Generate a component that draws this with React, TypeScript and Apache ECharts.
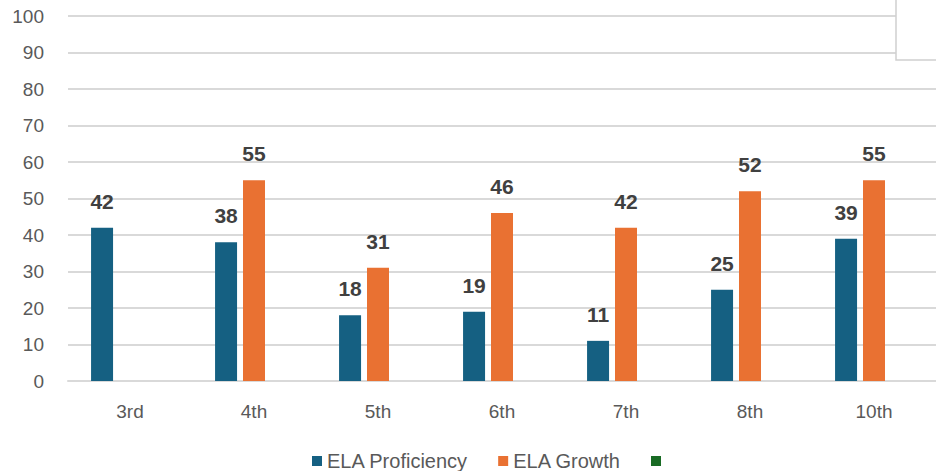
import React, { useEffect, useRef } from "react";
import * as echarts from "echarts";

const categories = ["3rd", "4th", "5th", "6th", "7th", "8th", "10th"];
const proficiency = [42, 38, 18, 19, 11, 25, 39];
const growth: (number | null)[] = [null, 55, 31, 46, 42, 52, 55];
const third: (number | null)[] = [null, null, null, null, null, null, null];
const seriesNames = ["ELA Proficiency", "ELA Growth", " "];
const colors = ["#156082", "#E97132", "#196B24"];

export default function App() {
  const ref = useRef<HTMLDivElement>(null);
  useEffect(() => {
    document.body.style.margin = "0";
    const chart = echarts.init(ref.current!, null, { renderer: "svg" });
    const font = "Liberation Sans";
    const label = {
      show: true,
      position: "top" as const,
      distance: 16,
      fontFamily: font,
      fontSize: 21,
      fontWeight: "bold" as const,
      color: "#404040",
    };
    const data = [proficiency, growth, third];
    chart.setOption({
      animation: false,
      backgroundColor: "#ffffff",
      color: colors,
      grid: { left: 68, right: -4, top: 16, height: 365 },
      legend: {
        bottom: -5,
        left: 307,
        icon: "rect",
        itemWidth: 10,
        itemHeight: 10,
        itemGap: 30,
        textStyle: { fontFamily: font, fontSize: 20, color: "#595959" },
        data: seriesNames,
      },
      xAxis: {
        type: "category",
        data: categories,
        axisLine: { show: true, lineStyle: { color: "#d9d9d9", width: 2 } },
        axisTick: { show: false },
        axisLabel: { fontFamily: font, fontSize: 19, color: "#595959", margin: 21 },
      },
      yAxis: {
        type: "value",
        min: 0,
        max: 100,
        interval: 10,
        axisLine: { show: false },
        axisTick: { show: false },
        axisLabel: { fontFamily: font, fontSize: 19, color: "#595959", margin: 24 },
        splitLine: { lineStyle: { color: "#d9d9d9", width: 2 } },
      },
      series: seriesNames.map((n, i) => ({
        name: n,
        type: "bar",
        data: data[i],
        barWidth: 22,
        barGap: "27%",
        label,
      })),
      graphic: [
        {
          type: "rect",
          shape: { x: 896, y: -2, width: 44, height: 62 },
          style: { fill: "#ffffff", stroke: "#d0d0d0", lineWidth: 1.5 },
          z: 100,
        },
      ],
    });
    return () => chart.dispose();
  }, []);
  return <div ref={ref} style={{ width: 936, height: 471 }} />;
}
